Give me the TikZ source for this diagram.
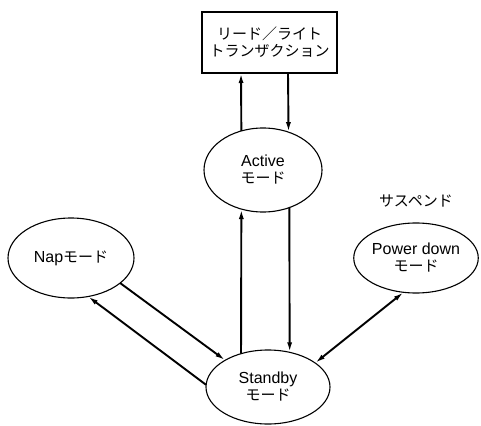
\documentclass[tikz,border=0pt]{standalone}
\usepackage{fontspec}
\setmainfont{Liberation Sans}
\newfontfamily\jpfont{Noto Sans CJK JP}
\usetikzlibrary{shapes.geometric,arrows.meta}
\newcommand{\jtext}[1]{{\jpfont\fontsize{15pt}{17pt}\selectfont #1}}
\begin{document}
\begin{tikzpicture}[x=1pt,y=-1pt,
  every node/.style={font=\fontsize{16pt}{17pt}\selectfont, align=center},
  stateell/.style={draw, ellipse, line width=1.1pt, inner sep=0pt, outer sep=0pt},
  tbox/.style={draw, rectangle, line width=1.1pt, inner sep=0pt, outer sep=0pt, minimum width=135pt, minimum height=61pt},
  conn/.style={line width=1.9pt, -{Latex[length=10pt,width=5pt]}},
  dconn/.style={line width=1.9pt, {Latex[length=10pt,width=5pt]}-{Latex[length=10pt,width=5pt]}}
]
\useasboundingbox (0,0) rectangle (481,425);
\node[tbox] (box) at (269.5,42.5) {\jtext{リード／ライト}\\[0pt]\jtext{トランザクション}};
\node[stateell, minimum width=118pt, minimum height=84pt] (active) at (263,170) {Active\\\jtext{モード}};
\node[stateell, minimum width=126pt, minimum height=80pt] (nap) at (71,258) {Nap\jtext{モード}};
\node[stateell, minimum width=124pt, minimum height=74pt] (standby) at (268,387) {Standby\\\jtext{モード}};
\node[stateell, minimum width=112pt, minimum height=70pt] (power) at (416,258) {Power down\\\jtext{モード}};
\node (susp) at (416,201) {\jtext{サスペンド}};
% box <-> active
\coordinate (b1) at (241,73);
\coordinate (b2) at (288,73);
\draw[conn] (active.119.4) -- (b1);
\draw[conn] (b2) -- (active.56.7);
% active <-> standby
\draw[conn] (standby.129) -- (active.-119.4);
\draw[conn] (active.-55.4) -- (standby.58.9);
% nap <-> standby
\draw[conn] (nap.-27) -- (standby.148.9);
\draw[conn] (standby.178) -- (nap.-66.4);
% standby <-> power
\draw[dconn] (standby.27.4) -- (power.-110.4);
\end{tikzpicture}
\end{document}
